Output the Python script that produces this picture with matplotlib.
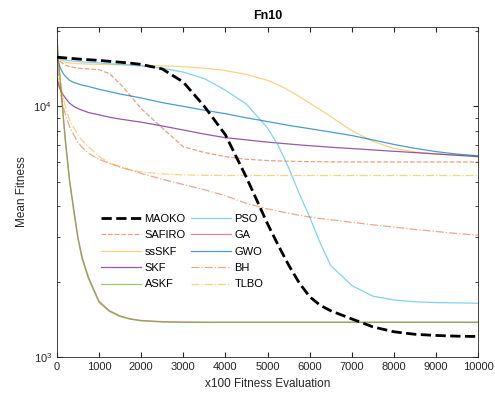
import matplotlib
matplotlib.use("Agg")
import matplotlib.pyplot as plt

plt.rcParams['font.family'] = ['Liberation Sans', 'DejaVu Sans']

# evaluation points (x100 fitness evaluations)
evals = [0, 50, 100, 150, 200, 300, 400, 500, 600, 750, 1000, 1250, 1500, 1750, 2000,
         2500, 3000, 3500, 4000, 4500, 5000, 5250, 5500, 5750, 6000, 6250, 6500,
         7000, 7500, 8000, 8500, 9000, 9500, 10000]

maoko  = [15700, 15680, 15650, 15630, 15600, 15550, 15500, 15450, 15400, 15350, 15250, 15120, 15000, 14870, 14700,
          14100, 12500, 10000, 7700, 5200, 3400, 2800, 2330, 1980, 1740, 1610, 1530,
          1420, 1320, 1262, 1233, 1220, 1212, 1208]
safiro = [16000, 15400, 15000, 14800, 14600, 14400, 14300, 14200, 14150, 14100, 14000, 13500, 12300, 11000, 9800,
          8200, 6900, 6550, 6300, 6150, 6080, 6060, 6040, 6030, 6020, 6015, 6010,
          6000, 6000, 6000, 6000, 6000, 6000, 6000]
sskf   = [16000, 15600, 15300, 15150, 15000, 14900, 14850, 14800, 14780, 14750, 14700, 14680, 14650, 14620, 14600,
          14500, 14400, 14200, 13900, 13400, 12700, 12200, 11600, 10950, 10300, 9700, 9100,
          8000, 7250, 6800, 6580, 6460, 6400, 6350]
skf    = [13000, 12000, 11500, 11100, 10800, 10300, 10000, 9800, 9650, 9450, 9250, 9050, 8900, 8770, 8650,
          8350, 8050, 7750, 7500, 7350, 7200, 7140, 7080, 7020, 6970, 6920, 6870,
          6790, 6700, 6620, 6540, 6460, 6380, 6300]
askf   = [19000, 14500, 11500, 9000, 7200, 5000, 3800, 2950, 2450, 2050, 1650, 1520, 1450, 1415, 1395,
          1380, 1376, 1375, 1375, 1375, 1375, 1375, 1375, 1375, 1375, 1375, 1375,
          1375, 1375, 1375, 1375, 1375, 1375, 1375]
pso    = [15600, 15500, 15400, 15350, 15300, 15200, 15150, 15100, 15050, 15000, 14900, 14800, 14700, 14600, 14500,
          14200, 13700, 12900, 11600, 10200, 8200, 7000, 5700, 4500, 3620, 2850, 2320,
          1930, 1750, 1690, 1662, 1650, 1645, 1640]
ga     = [18500, 14200, 11800, 9200, 7400, 5100, 3900, 3000, 2500, 2080, 1670, 1530, 1460, 1420, 1400,
          1385, 1380, 1378, 1378, 1378, 1378, 1378, 1378, 1378, 1378, 1378, 1378,
          1378, 1378, 1378, 1378, 1378, 1378, 1378]
gwo    = [15500, 14700, 14000, 13500, 13200, 12700, 12450, 12300, 12150, 12000, 11700, 11450, 11200, 11000, 10800,
          10350, 10000, 9650, 9350, 9000, 8700, 8550, 8400, 8270, 8150, 8020, 7900,
          7650, 7350, 7050, 6800, 6600, 6450, 6350]
bh     = [16000, 12500, 11000, 10000, 9300, 8300, 7700, 7200, 6850, 6500, 6150, 5920, 5750, 5570, 5400,
          5120, 4880, 4650, 4400, 4100, 3900, 3820, 3750, 3680, 3620, 3570, 3530,
          3450, 3370, 3300, 3230, 3170, 3110, 3060]
tlbo   = [17000, 13500, 12000, 10800, 10000, 8800, 8200, 7700, 7300, 6900, 6300, 5950, 5700, 5570, 5480,
          5380, 5330, 5310, 5300, 5300, 5300, 5300, 5300, 5300, 5300, 5300, 5300,
          5300, 5300, 5300, 5300, 5300, 5300, 5300]

fig = plt.figure(figsize=(4.95, 3.99), dpi=100)
ax = fig.add_axes([0.115, 0.105, 0.851, 0.827])

ax.plot(evals, maoko, '--', color='black', lw=2.0, label='MAOKO', zorder=5)
ax.plot(evals, safiro, '--', color=(0.85, 0.325, 0.098), lw=0.9, alpha=0.55, label='SAFIRO')
ax.plot(evals, sskf, '-', color=(0.929, 0.694, 0.125), lw=0.9, alpha=0.55, label='ssSKF')
ax.plot(evals, skf, '-', color=(0.494, 0.184, 0.556), lw=0.9, alpha=0.8, label='SKF')
ax.plot(evals, ga, '-', color=(0.635, 0.078, 0.184), lw=0.9, alpha=0.5, label='GA')
ax.plot(evals, askf, '-', color=(0.466, 0.674, 0.188), lw=0.9, alpha=0.7, label='ASKF')
ax.plot(evals, pso, '-', color=(0.301, 0.745, 0.933), lw=0.9, alpha=0.7, label='PSO')
ax.plot(evals, gwo, '-', color=(0.0, 0.447, 0.741), lw=0.9, alpha=0.7, label='GWO')
ax.plot(evals, bh, '-.', color=(0.85, 0.325, 0.098), lw=0.9, alpha=0.5, label='BH')
ax.plot(evals, tlbo, '-.', color=(0.929, 0.694, 0.125), lw=0.9, alpha=0.55, label='TLBO')

ax.set_yscale('log')
ax.set_xlim(0, 10000)
ax.set_ylim(1000, 20700)
ax.set_xticks(range(0, 10001, 1000))
ax.tick_params(axis='both', which='both', direction='in', labelsize=8, colors='#262626',
               top=True, right=True)
for s in ax.spines.values():
    s.set_color('#262626')
    s.set_linewidth(0.6)

ax.set_title('Fn10', fontsize=9, fontweight='bold')
ax.set_xlabel('x100 Fitness Evaluation', fontsize=8.5, color='#262626')
ax.set_ylabel('Mean Fitness', fontsize=8.5, color='#262626')

h, l = ax.get_legend_handles_labels()
order = ['MAOKO', 'SAFIRO', 'ssSKF', 'SKF', 'ASKF', 'PSO', 'GA', 'GWO', 'BH', 'TLBO']
hh = [h[l.index(n)] for n in order]
ax.legend(hh, order, loc='upper left', bbox_to_anchor=(0.08, 0.465), ncol=2,
          frameon=False, fontsize=8, handlelength=3.6, labelspacing=0.58,
          columnspacing=0.45, handletextpad=0.35)

fig.savefig('out.png', dpi=100)
